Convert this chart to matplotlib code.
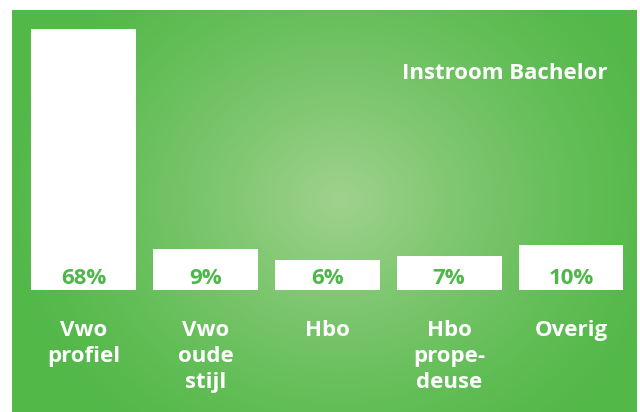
import numpy as np
import matplotlib
matplotlib.use("Agg")
import matplotlib.pyplot as plt

# ---- data ----
categories = ["Vwo\nprofiel", "Vwo\noude\nstijl", "Hbo", "Hbo\nprope-\ndeuse", "Overig"]
values = [68, 9, 6, 7, 10]
value_labels = ["68%", "9%", "6%", "7%", "10%"]
title = "Instroom Bachelor"

# ---- style ----
W, H = 640, 412
DPI = 100
EDGE = np.array([82, 184, 72]) / 255.0
CENTER = np.array([160, 210, 142]) / 255.0
LABEL_GREEN = "#4db848"
FONT = ["Open Sans", "DejaVu Sans"]
FS = 16
base = 2.0  # visual baseline offset under the bars

fig = plt.figure(figsize=(W / DPI, H / DPI), dpi=DPI, facecolor="white")

# background panel with radial gradient
x0, x1, y0, y1 = 12, 637, 0, 402  # pixel box (y from bottom)
bg = fig.add_axes([x0 / W, y0 / H, (x1 - x0) / W, (y1 - y0) / H])
gx = np.arange(x0, x1) + 0.5
gy = np.arange(H - y1, H - y0) + 0.5  # from top
XX, YY = np.meshgrid(gx, gy)
cx, cy = 340, 200
r = np.sqrt(((XX - cx) / 1.15) ** 2 + (YY - cy) ** 2)
f = np.clip(1 - r / 300.0, 0, 1) ** 1.3
img = EDGE[None, None, :] * (1 - f[..., None]) + CENTER[None, None, :] * f[..., None]
bg.imshow(img, aspect="auto", interpolation="bilinear")
bg.set_axis_off()

# bar axes
ax = fig.add_axes([x0 / W, 0, (x1 - x0) / W, 1])
ax.set_facecolor("none")
ax.patch.set_alpha(0)
unit = 121.85
xc0 = 83.6
ax.set_xlim((x0 - xc0) / unit, (x1 - xc0) / unit)
k = 3.73
ybot = 122
ax.set_ylim(-base - ybot / k, -base + (H - ybot) / k)
ax.set_axis_off()

xs = np.arange(len(values))
ax.bar(xs, [v + base for v in values], bottom=-base, width=0.86, color="white", linewidth=0)

for i, (lab, vl) in enumerate(zip(categories, value_labels)):
    ax.text(i, -base + 6 / k, vl, ha="center", va="baseline", color=LABEL_GREEN,
            fontsize=FS, fontweight="bold", family=FONT)
    ax.text(i, -base - 30 / k, lab, ha="center", va="top", color="white",
            fontsize=FS, fontweight="bold", family=FONT, linespacing=1.3,
            multialignment="center")

fig.text(505 / W, 1 - 79 / H, title, ha="center", va="baseline", color="white",
         fontsize=FS, fontweight="bold", family=FONT)

fig.savefig("out.png", dpi=DPI, facecolor="white")
